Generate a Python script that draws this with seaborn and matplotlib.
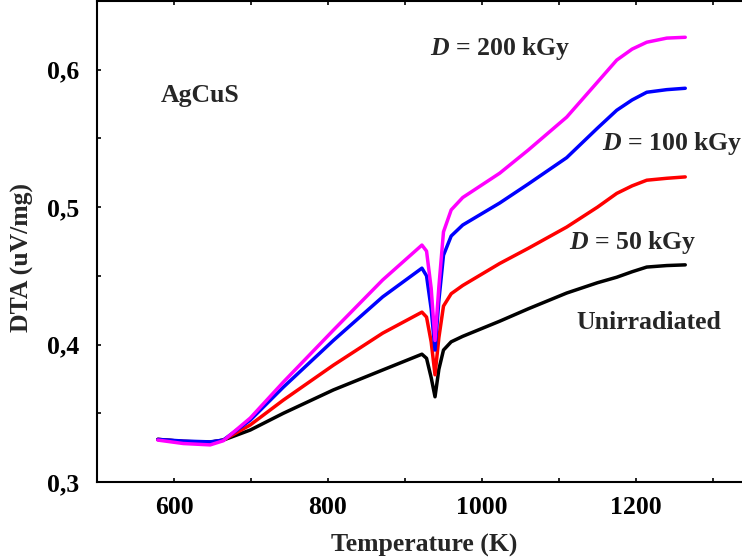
import matplotlib
matplotlib.use("Agg")
import matplotlib.pyplot as plt
from matplotlib.ticker import MultipleLocator, FixedLocator, FixedFormatter
import pandas as pd
import seaborn as sns

# temperature grid (K), shared by all four curves
temperature = [579, 612, 647, 664, 699, 742, 807, 871, 922, 928, 934, 939, 944, 950,
               960, 975, 1023, 1060, 1110, 1150, 1175, 1195, 1214, 1240, 1264]

unirradiated = [0.331, 0.3295, 0.329, 0.3305, 0.3378, 0.350, 0.367, 0.3815, 0.393, 0.390,
                0.376, 0.362, 0.382, 0.396, 0.402, 0.406, 0.417, 0.426, 0.4375, 0.445,
                0.449, 0.453, 0.4564, 0.4575, 0.458]
dose_50 = [0.331, 0.3295, 0.3288, 0.3305, 0.3415, 0.3596, 0.385, 0.4083, 0.4236, 0.420,
           0.402, 0.378, 0.405, 0.428, 0.437, 0.443, 0.459, 0.470, 0.4855, 0.500,
           0.510, 0.5155, 0.5196, 0.521, 0.522]
dose_100 = [0.331, 0.3298, 0.3292, 0.3305, 0.345, 0.369, 0.403, 0.4347, 0.4556, 0.450,
            0.426, 0.396, 0.432, 0.465, 0.479, 0.487, 0.503, 0.5168, 0.536, 0.5575,
            0.5705, 0.578, 0.5836, 0.5855, 0.5865]
dose_200 = [0.3305, 0.328, 0.327, 0.330, 0.3465, 0.3727, 0.4105, 0.447, 0.4724, 0.468,
            0.441, 0.403, 0.442, 0.482, 0.498, 0.507, 0.5247, 0.5415, 0.5655, 0.591,
            0.607, 0.615, 0.620, 0.623, 0.6236]

series_names = ["Unirradiated", "50 kGy", "100 kGy", "200 kGy"]
series_values = [unirradiated, dose_50, dose_100, dose_200]
series_colors = ["black", "red", "blue", "magenta"]

y_ticks = [0.3, 0.4, 0.5, 0.6]
y_tick_labels = ["0,3", "0,4", "0,5", "0,6"]
x_ticks = [600, 800, 1000, 1200]

rows = []
for name, vals in zip(series_names, series_values):
    for t, v in zip(temperature, vals):
        rows.append({"T": t, "DTA": v, "sample": name})
df = pd.DataFrame(rows)

sns.set_style("ticks")
plt.rcParams["font.family"] = ["Liberation Serif", "DejaVu Serif"]
plt.rcParams["font.weight"] = "bold"
plt.rcParams["mathtext.fontset"] = "custom"
plt.rcParams["mathtext.it"] = "Liberation Serif:italic:bold"
plt.rcParams["mathtext.rm"] = "Liberation Serif:bold"

fs = 18.5
fig = plt.figure(figsize=(7.42, 5.59), dpi=100)
ax = fig.add_axes([97 / 742, 77 / 559, 645 / 742, 481 / 559])

sns.lineplot(data=df, x="T", y="DTA", hue="sample", palette=dict(zip(series_names, series_colors)),
             linewidth=2.5, ax=ax, legend=False, estimator=None, sort=False)

ax.set_xlim(500, 1337.7)
ax.set_ylim(0.3, 0.65)
ax.xaxis.set_major_locator(FixedLocator(x_ticks))
ax.xaxis.set_minor_locator(MultipleLocator(100))
ax.yaxis.set_major_locator(FixedLocator(y_ticks))
ax.yaxis.set_major_formatter(FixedFormatter(y_tick_labels))
ax.yaxis.set_minor_locator(MultipleLocator(0.05))
ax.tick_params(which="both", direction="in", length=3, width=1.2, top=True,
               labelsize=fs, colors="black")
ax.tick_params(axis="x", pad=10)
ax.tick_params(axis="y", pad=13)
for lbl in ax.get_xticklabels() + ax.get_yticklabels():
    lbl.set_fontweight("bold")

for side in ["left", "bottom", "top"]:
    ax.spines[side].set_linewidth(1.5)
    ax.spines[side].set_color("black")
ax.spines["right"].set_visible(False)

ax.set_xlabel("Temperature (K)", fontsize=fs, fontweight="bold")
ax.set_ylabel("DTA (uV/mg)", fontsize=fs, fontweight="bold")
ax.xaxis.set_label_coords(0.507, -0.107)
ax.yaxis.set_label_coords(-0.097, 0.466)

ax.text(583, 0.5815, "AgCuS", fontsize=fs, fontweight="bold", va="center")
ax.text(932, 0.6156, "$D$ = 200 kGy", fontsize=fs, fontweight="bold", va="center")
ax.text(1156, 0.5465, "$D$ = 100 kGy", fontsize=fs, fontweight="bold", va="center")
ax.text(1113, 0.4745, "$D$ = 50 kGy", fontsize=fs, fontweight="bold", va="center")
ax.text(1123, 0.4164, "Unirradiated", fontsize=fs, fontweight="bold", va="center")

fig.savefig("out.png", dpi=100)
